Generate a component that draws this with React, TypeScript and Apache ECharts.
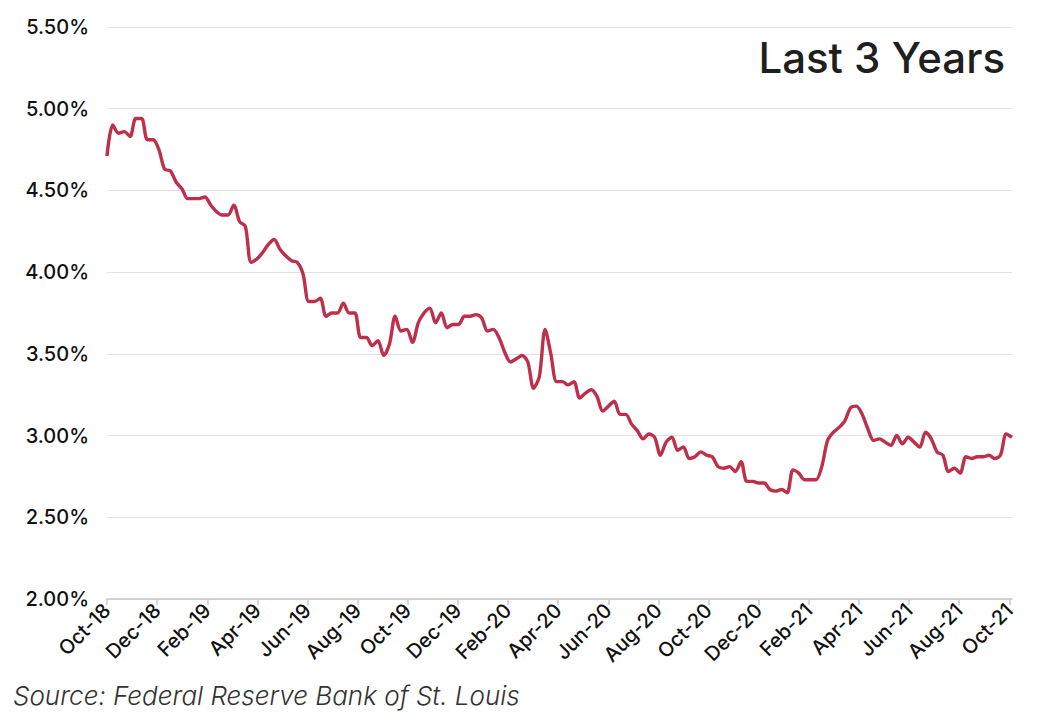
import React, { useEffect, useRef } from "react";
import * as echarts from "echarts";

// Weekly 30-year mortgage rate (%), first week Oct 4 2018, last week Oct 7 2021
const startDate = "2018-10-04";
const rates: number[] = [
  // 2018
  4.71, 4.9, 4.85, 4.86, 4.83, 4.94, 4.94, 4.81, 4.81, 4.75, 4.63, 4.62, 4.55,
  // 2019
  4.51, 4.45, 4.45, 4.45, 4.46, 4.41, 4.37, 4.35, 4.35, 4.41, 4.31, 4.28, 4.06,
  4.08, 4.12, 4.17, 4.2, 4.14, 4.1, 4.07, 4.06, 3.99, 3.82, 3.82, 3.84, 3.73,
  3.75, 3.75, 3.81, 3.75, 3.75, 3.6, 3.6, 3.55, 3.58, 3.49, 3.56, 3.73, 3.64,
  3.65, 3.57, 3.69, 3.75, 3.78, 3.69, 3.75, 3.66, 3.68, 3.68, 3.73, 3.73, 3.74,
  // 2020
  3.72, 3.64, 3.65, 3.6, 3.51, 3.45, 3.47, 3.49, 3.45, 3.29, 3.36, 3.65, 3.5,
  3.33, 3.33, 3.31, 3.33, 3.23, 3.26, 3.28, 3.24, 3.15, 3.18, 3.21, 3.13, 3.13,
  3.07, 3.03, 2.98, 3.01, 2.99, 2.88, 2.96, 2.99, 2.91, 2.93, 2.86, 2.87, 2.9,
  2.88, 2.87, 2.81, 2.8, 2.81, 2.78, 2.84, 2.72, 2.72, 2.71, 2.71, 2.67, 2.66,
  2.67,
  // 2021
  2.65, 2.79, 2.77, 2.73, 2.73, 2.73, 2.81, 2.97, 3.02, 3.05, 3.09, 3.17,
  3.18, 3.13, 3.04, 2.97, 2.98, 2.96, 2.94, 3.0, 2.95, 2.99, 2.96, 2.93, 3.02,
  2.98, 2.9, 2.88, 2.78, 2.8, 2.77, 2.87, 2.86, 2.87, 2.87, 2.88, 2.86, 2.88,
  3.01, 2.99,
];

const tickLabels: string[] = [
  "Oct-18", "Dec-18", "Feb-19", "Apr-19", "Jun-19", "Aug-19", "Oct-19",
  "Dec-19", "Feb-20", "Apr-20", "Jun-20", "Aug-20", "Oct-20", "Dec-20",
  "Feb-21", "Apr-21", "Jun-21", "Aug-21", "Oct-21",
];

const titleText = "Last 3 Years";
const sourceText = "Source: Federal Reserve Bank of St. Louis";

const DAYS_PER_MONTH = 365.25 / 12;

export default function App() {
  const ref = useRef<HTMLDivElement>(null);

  useEffect(() => {
    if (!ref.current) return;
    const chart = echarts.init(ref.current, undefined, { renderer: "svg" });
    // x value: months elapsed since the first week
    const data = rates.map((v, i) => [(i * 7) / DAYS_PER_MONTH, v]);
    const font = "Inter, 'Open Sans', sans-serif";

    chart.setOption({
      animation: false,
      backgroundColor: "#ffffff",
      grid: { left: 107, right: 30, top: 27, bottom: 125, containLabel: false },
      xAxis: {
        type: "value",
        min: 0,
        max: "dataMax",
        interval: 2,
        axisLine: { show: true, lineStyle: { color: "#c8c8c8", width: 1.5 } },
        axisTick: { show: true, length: 6, lineStyle: { color: "#c8c8c8", width: 1.5 } },
        splitLine: { show: false },
        axisLabel: {
          rotate: 45,
          margin: 8,
          fontSize: 20,
          fontWeight: 500,
          color: "#111",
          fontFamily: font,
          showMaxLabel: false,
          formatter: (v: number) => {
            const idx = Math.round(v / 2);
            return Math.abs(v - idx * 2) < 0.01 ? tickLabels[idx] ?? "" : "";
          },
        },
      },
      yAxis: {
        type: "value",
        min: 2,
        max: 5.5,
        interval: 0.5,
        axisLine: { show: false },
        axisTick: { show: false },
        splitLine: { show: true, lineStyle: { color: "#e2e2e2", width: 1.2 } },
        axisLabel: {
          margin: 18,
          fontSize: 20,
          fontWeight: 500,
          color: "#111",
          fontFamily: font,
          formatter: (v: number) => v.toFixed(2) + "%",
        },
      },
      series: [
        {
          type: "line",
          data,
          smooth: 0.3,
          showSymbol: false,
          symbol: "none",
          lineStyle: { color: "#BE2F4A", width: 3.4 },
        },
      ],
      graphic: [
        {
          type: "text",
          right: 37,
          top: 36,
          style: {
            text: titleText,
            fontSize: 42,
            fontWeight: 500,
            fontFamily: font,
            fill: "#1f1f1f",
          },
        },
        {
          type: "text",
          left: 13,
          top: 682,
          style: {
            text: sourceText,
            fontSize: 26,
            fontStyle: "italic",
            fontWeight: 300,
            fontFamily: font,
            fill: "#333",
          },
        },
      ],
    });
    return () => chart.dispose();
  }, []);

  return (
    <div
      ref={ref}
      style={{ position: "fixed", left: 0, top: 0, width: 1042, height: 724 }}
    />
  );
}
